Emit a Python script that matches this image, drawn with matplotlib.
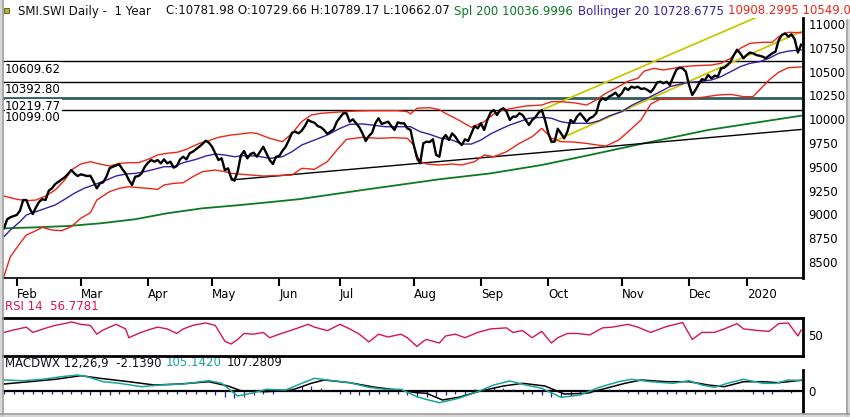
import matplotlib
matplotlib.use('Agg')
import matplotlib.pyplot as plt
import numpy as np
import pandas as pd
from matplotlib.lines import Line2D
from matplotlib.patches import Rectangle
from matplotlib.transforms import blended_transform_factory

# trading calendar (SIX, one year of daily sessions)
holidays = ['2019-04-19', '2019-04-22', '2019-05-01', '2019-05-30', '2019-06-10',
            '2019-08-01', '2019-12-24', '2019-12-25', '2019-12-26', '2019-12-31',
            '2020-01-01', '2020-01-02']
days = pd.bdate_range('2019-01-28', '2020-01-28')
days = days[~days.isin(pd.to_datetime(holidays))]

# close (session number -> value)
close_day = [0, 1, 2, 4, 5, 6, 7, 8, 9, 10, 11, 12, 13, 14, 15, 16, 17, 19, 20, 21,
             22, 23, 24, 26, 27, 28, 29, 30, 31, 32, 33, 34, 36, 37, 38, 39, 40, 41, 42, 43,
             44, 45, 46, 47, 48, 49, 50, 51, 52, 53, 54, 55, 56, 57, 58, 59, 61, 62, 63, 64,
             65, 66, 67, 68, 69, 70, 71, 72, 73, 74, 75, 76, 77, 78, 79, 80, 81, 82, 83, 84,
             85, 86, 87, 88, 89, 90, 91, 92, 93, 94, 95, 96, 97, 98, 99, 100, 101, 102, 103, 104,
             105, 106, 107, 108, 109, 110, 111, 112, 113, 114, 115, 116, 117, 118, 120, 121, 122, 123, 124, 125,
             126, 127, 128, 129, 130, 131, 132, 133, 134, 135, 136, 137, 138, 139, 140, 141, 142, 143, 144, 145,
             146, 147, 148, 149, 150, 151, 152, 153, 154, 155, 156, 157, 158, 159, 160, 161, 162, 163, 164, 165,
             166, 167, 168, 169, 170, 171, 172, 173, 174, 175, 176, 177, 178, 179, 180, 181, 182, 183, 184, 185,
             186, 187, 188, 189, 190, 191, 192, 193, 194, 195, 196, 197, 198, 199, 200, 201, 202, 203, 204, 205,
             206, 207, 208, 209, 210, 211, 212, 213, 214, 215, 216, 217, 218, 219, 220, 221, 222, 223, 224, 225,
             226, 227, 228, 229, 230, 231, 232, 233, 234, 235, 236, 237, 238, 239, 240, 241, 242, 243, 244, 245,
             246, 247, 248, 249]
close_val = [8854, 8949, 8970, 8994, 9039, 9151, 9151, 9064, 9004, 9074, 9133, 9159, 9151, 9249, 9274, 9319, 9343, 9390, 9424, 9466,
             9431, 9403, 9421, 9403, 9406, 9343, 9274, 9326, 9337, 9396, 9484, 9501, 9526, 9474, 9431, 9361, 9309, 9396, 9403, 9431,
             9501, 9543, 9571, 9554, 9571, 9536, 9578, 9536, 9554, 9491, 9508, 9578, 9606, 9578, 9642, 9659, 9711, 9740, 9774, 9753,
             9711, 9642, 9571, 9589, 9466, 9484, 9380, 9354, 9450, 9620, 9666, 9589, 9634, 9648, 9606, 9659, 9711, 9642, 9571, 9529,
             9606, 9613, 9669, 9711, 9781, 9858, 9869, 9851, 9879, 9928, 9992, 9974, 9963, 9928, 9915, 9887, 9845, 9869, 9894, 9974,
             10020, 10062, 10062, 9974, 9999, 9957, 9915, 9851, 9771, 9824, 9858, 9957, 10010, 9950, 9974, 9928, 9887, 9967, 9957, 9957,
             9904, 9887, 9729, 9606, 9536, 9747, 9764, 9760, 9789, 9624, 9606, 9790, 9834, 9781, 9851, 9816, 9764, 9729, 9789, 9771,
             9850, 9928, 9904, 9957, 9887, 9992, 10069, 10097, 10044, 10097, 10115, 10079, 9992, 10027, 10027, 10062, 10044, 9992, 9939, 9992,
             10020, 10069, 10097, 9992, 9860, 9764, 9764, 9900, 9851, 9799, 9869, 9992, 9963, 10027, 10062, 10020, 9974, 10010, 10027, 10062,
             10184, 10219, 10202, 10237, 10254, 10279, 10237, 10272, 10330, 10307, 10342, 10330, 10342, 10317, 10324, 10307, 10283, 10324, 10385, 10394,
             10377, 10394, 10359, 10440, 10517, 10541, 10534, 10499, 10360, 10254, 10307, 10366, 10420, 10412, 10464, 10429, 10457, 10447, 10534, 10541,
             10569, 10604, 10674, 10730, 10692, 10640, 10674, 10700, 10692, 10674, 10667, 10657, 10640, 10667, 10692, 10709, 10830, 10884, 10902, 10867,
             10892, 10840, 10700, 10782]

# Bollinger 20: middle, upper, lower
boll_day = [0, 2, 5, 7, 10, 13, 16, 19, 22, 25, 28, 32, 35, 38, 41, 44, 47, 50, 53, 56,
            60, 63, 66, 69, 72, 75, 79, 83, 87, 90, 93, 97, 101, 105, 108, 112, 115, 119, 123, 127,
            130, 133, 136, 140, 143, 146, 149, 152, 155, 158, 161, 164, 168, 171, 174, 177, 180, 183, 186, 189,
            193, 196, 199, 202, 205, 208, 211, 214, 217, 221, 224, 227, 230, 233, 236, 239, 242, 245, 249]
boll_mid = [8766, 8836, 8924, 8994, 9029, 9064, 9099, 9159, 9222, 9274, 9309, 9361, 9403, 9424, 9431, 9449, 9474, 9501, 9501, 9543,
            9578, 9613, 9634, 9624, 9606, 9617, 9613, 9589, 9606, 9659, 9729, 9781, 9834, 9904, 9946, 9950, 9939, 9921, 9921, 9921,
            9869, 9841, 9805, 9781, 9739, 9739, 9781, 9845, 9894, 9939, 9974, 10010, 10020, 10010, 9974, 9957, 9957, 9957, 9985, 10034,
            10079, 10144, 10193, 10237, 10289, 10342, 10366, 10387, 10394, 10412, 10447, 10499, 10552, 10587, 10604, 10640, 10692, 10715, 10729]

upper_day = [0, 4, 7, 10, 13, 16, 19, 21, 24, 27, 29, 33, 36, 39, 42, 45, 48, 51, 54, 57,
             61, 64, 67, 71, 74, 77, 79, 83, 87, 90, 93, 96, 99, 102, 106, 110, 115, 119, 123, 126,
             127, 129, 133, 136, 138, 141, 146, 150, 153, 156, 159, 163, 168, 171, 174, 178, 182, 185, 188, 192,
             195, 198, 200, 203, 206, 209, 212, 216, 221, 224, 227, 230, 233, 237, 240, 242, 245, 249]
upper_val = [9193, 9159, 9144, 9151, 9193, 9256, 9361, 9466, 9529, 9554, 9536, 9508, 9536, 9543, 9543, 9578, 9624, 9642, 9652, 9683,
             9746, 9774, 9810, 9834, 9845, 9858, 9851, 9799, 9764, 9851, 9974, 10044, 10062, 10069, 10079, 10086, 10090, 10090, 10090, 10079,
             10055, 10115, 10121, 10100, 10060, 10010, 9915, 9974, 10055, 10097, 10115, 10139, 10149, 10184, 10184, 10173, 10149, 10202, 10272, 10342,
             10400, 10429, 10506, 10534, 10517, 10534, 10552, 10562, 10569, 10587, 10640, 10744, 10797, 10808, 10808, 10867, 10913, 10908]

lower_day = [0, 2, 5, 7, 10, 12, 15, 18, 21, 24, 27, 29, 33, 36, 39, 42, 45, 48, 50, 53,
             56, 59, 62, 66, 69, 71, 81, 90, 93, 97, 101, 104, 107, 112, 117, 122, 126, 128, 129, 132,
             136, 140, 143, 147, 150, 153, 157, 161, 165, 168, 171, 174, 178, 182, 185, 188, 192, 195, 199, 202,
             205, 211, 216, 223, 227, 231, 234, 236, 239, 242, 245, 249]
lower_val = [8350, 8556, 8696, 8784, 8829, 8864, 8836, 8829, 8871, 8959, 9018, 9151, 9239, 9274, 9291, 9281, 9274, 9263, 9309, 9326,
             9333, 9396, 9449, 9466, 9449, 9431, 9403, 9414, 9484, 9474, 9554, 9676, 9789, 9810, 9799, 9806, 9799, 9729, 9571, 9529,
             9519, 9529, 9519, 9554, 9624, 9606, 9659, 9746, 9816, 9904, 9800, 9764, 9760, 9746, 9730, 9718, 9781, 9869, 9992, 10157,
             10212, 10212, 10219, 10254, 10261, 10237, 10237, 10307, 10412, 10493, 10541, 10549]

# simple moving average 200
spl_day = [0, 10, 20, 30, 41, 51, 62, 74, 92, 112, 136, 152, 168, 183, 199, 220, 249]
spl_val = [8854, 8864, 8878, 8906, 8949, 9012, 9064, 9099, 9159, 9256, 9369, 9431, 9519, 9624, 9740, 9887, 10037]

# drawn trendlines
support_day = [71, 249]
support_val = [9362, 9892]
chan_up_day = [168, 249]
chan_up_val = [10097, 11272]
chan_lo_day = [171, 249]
chan_lo_val = [9755, 10920]

# horizontal levels
levels = [10609.62, 10392.80, 10219.77, 10099.00]

# RSI 14
rsi_day = [0, 3, 7, 9, 13, 16, 20, 21, 24, 27, 29, 31, 35, 38, 39, 42, 45, 48, 51, 54,
           56, 59, 63, 66, 68, 69, 71, 73, 75, 78, 81, 83, 86, 91, 95, 97, 101, 105, 108, 111,
           114, 117, 120, 124, 126, 129, 131, 132, 136, 138, 141, 144, 148, 152, 157, 159, 162, 165, 168, 171,
           173, 176, 179, 183, 187, 190, 195, 198, 202, 207, 212, 215, 218, 222, 225, 229, 231, 236, 239, 242,
           245, 248, 249]
rsi_val = [53.5, 57, 61, 53.5, 59.5, 63.5, 67, 68.5, 65, 63.5, 51, 57, 65, 58.5, 46, 52, 57, 61, 58.5, 52,
           58.5, 63.5, 67, 63.5, 48.5, 41, 37, 43.5, 52, 51, 53.5, 46, 51, 58.5, 65, 61, 56, 65, 58.5, 51,
           40, 51, 47, 51, 46, 33.5, 41, 43.5, 38.5, 48.5, 51, 46, 53.5, 58.5, 60, 53.5, 56, 46, 55, 38.5,
           46, 52, 52, 50, 60, 61, 65, 61, 53.5, 62, 67.5, 43.5, 53.5, 53.5, 58.5, 66, 58.5, 56, 55, 66,
           67, 48.5, 56.78]

# MACD 12,26,9
macd_day = [0, 6, 12, 18, 23, 26, 31, 36, 43, 49, 56, 64, 68, 73, 78, 82, 88, 93, 97, 101,
            108, 114, 119, 124, 129, 132, 136, 142, 148, 153, 158, 163, 168, 174, 180, 186, 192, 196, 202, 209,
            214, 218, 222, 226, 231, 237, 241, 245, 249]
macd_val = [110, 103, 117, 143, 160, 143, 93, 77, 43, 60, 70, 103, 77, -50, -17, 17, 10, 77, 127, 110,
            83, 37, 17, 17, -57, -85, -117, -73, -7, 60, 100, 60, 27, -63, -40, 37, 93, 117, 93, 77,
            103, 60, 37, 77, 117, 77, 77, 110, 105.142]
sig_day = [0, 8, 16, 24, 30, 39, 47, 55, 64, 70, 74, 82, 90, 96, 100, 108, 116, 123, 129, 132,
           137, 142, 148, 156, 162, 169, 175, 182, 188, 194, 199, 207, 214, 220, 225, 231, 237, 242, 249]
sig_val = [70, 93, 117, 153, 127, 93, 60, 70, 93, 50, 3, -7, 10, 77, 110, 83, 37, 10, -17, -23,
           -90, -63, -7, 50, 77, 50, -30, -23, 27, 77, 110, 93, 93, 60, 43, 93, 93, 83, 107.281]
hist_day = list(range(0, 250, 3))
hist_val = [-25, -28, -25, -28, -25, -28, -25, -25,
            -28, -35, -40, -35, -30, -28, -25, -25,
            -30, -28, -25, -28, -25, -25, -35,
            -55, -70, -60, -40, -25,
            -25, 20, 35, 50, 50, 30, 15,
            -25, -30, -35, -40, -30, -28, -30,
            -40, -55, -60, -50, -40, -30, -25,
            20, 35, 40, 35, 25, -25, -30,
            -40, -55, -60, -45, -30, -20, 20,
            25, 20, -20, -25, -28, -25, -25,
            -25, -28, -30, -28, -25, 20, 25,
            20, -25, -28, -25, 20, -20, -2]

# colours
c_price = 'black'
c_mid = '#3a1f9e'
c_band = '#ee2518'
c_spl = '#0b7a22'
c_yel = '#c9c900'
c_rsi = '#d4145a'
c_macd = '#1aa39a'
c_hist = '#23238c'

plt.rcParams['font.family'] = 'DejaVu Sans'
plt.rcParams['font.size'] = 8.5

W, H = 850, 417
fig = plt.figure(figsize=(W / 100, H / 100), dpi=100)


def box(x0, y0, x1, y1):
    # pixel box with top-left origin -> figure rect
    return [x0 / W, 1 - y1 / H, (x1 - x0) / W, (y1 - y0) / H]


def chain(prev, text, color):
    # put a text piece right after the previous one
    return ax.annotate(text, xy=(1, 0.5), xycoords=prev, xytext=(3.2, 0),
                       textcoords='offset points', va='center', ha='left', color=color)


ax = fig.add_axes(box(3, 18, 803, 278))
ax_rsi = fig.add_axes(box(3, 318, 803, 356), sharex=ax)
ax_macd = fig.add_axes(box(3, 370, 803, 412), sharex=ax)

# main price panel
blend = blended_transform_factory(ax.transAxes, ax.transData)
lvl_col = ['black', 'black', '#2f5e5e', 'black']
lvl_lw = [1.0, 1.0, 2.0, 1.0]
for v, c, w in zip(levels, lvl_col, lvl_lw):
    ax.axhline(v, color=c, lw=w, zorder=1)
    ax.annotate(f'{v:.2f}', xy=(0.0025, v), xycoords=blend, xytext=(0, -1.2),
                textcoords='offset points', ha='left', va='top', fontsize=8.5, zorder=5,
                bbox=dict(facecolor='white', edgecolor='none', pad=0.3))

ax.plot(spl_day, spl_val, color=c_spl, lw=1.3, zorder=2)
ax.plot(support_day, support_val, color='black', lw=1.0, zorder=2)
ax.plot(chan_up_day, chan_up_val, color=c_yel, lw=1.3, zorder=2)
ax.plot(chan_lo_day, chan_lo_val, color=c_yel, lw=1.3, zorder=2)
ax.plot(upper_day, upper_val, color=c_band, lw=1.0, zorder=3)
ax.plot(lower_day, lower_val, color=c_band, lw=1.0, zorder=3)
ax.plot(boll_day, boll_mid, color=c_mid, lw=1.0, zorder=3)
ax.plot(close_day, close_val, color=c_price, lw=1.7, zorder=4)

ax.set_xlim(-0.3, 249.6)
ax.set_ylim(8332, 11063)
ax.set_yticks(np.arange(8500, 11001, 250))
ax.yaxis.tick_right()
ax.tick_params(axis='y', length=0, pad=4, labelsize=8.5)

months = days.to_period('M')
first = np.r_[True, months[1:] != months[:-1]]
tick_pos = np.flatnonzero(first)[1:]
tick_lab = [str(d.year) if d.month == 1 else d.strftime('%b') for d in days[tick_pos]]
ax.set_xticks(tick_pos)
ax.set_xticklabels(tick_lab)
ax.tick_params(axis='x', direction='out', length=6, width=1.5, pad=1.5, labelsize=8.5)
for lab in ax.get_xticklabels():
    lab.set_horizontalalignment('left')

for s in ['left', 'top']:
    ax.spines[s].set_visible(False)
ax.spines['right'].set_linewidth(2)
ax.spines['bottom'].set_linewidth(1.2)

# RSI panel
ax_rsi.plot(rsi_day, rsi_val, color=c_rsi, lw=1.0)
ax_rsi.set_ylim(20, 74)
ax_rsi.set_yticks([50])
ax_rsi.yaxis.tick_right()
ax_rsi.tick_params(axis='y', length=0, pad=4, labelsize=8.5)
ax_rsi.tick_params(axis='x', bottom=False, labelbottom=False)
ax_rsi.spines['left'].set_visible(False)
for s in ['top', 'bottom', 'right']:
    ax_rsi.spines[s].set_linewidth(2)

# MACD panel
ax_macd.axhline(0, color='black', lw=1.6, zorder=1)
ax_macd.vlines(hist_day, 0, hist_val, color=c_hist, lw=0.9, zorder=2)
ax_macd.plot(sig_day, sig_val, color='black', lw=1.1, zorder=3)
ax_macd.plot(macd_day, macd_val, color=c_macd, lw=1.1, zorder=3)
ax_macd.set_ylim(-210, 210)
ax_macd.set_yticks([0])
ax_macd.yaxis.tick_right()
ax_macd.tick_params(axis='y', length=0, pad=4, labelsize=8.5)
ax_macd.tick_params(axis='x', bottom=False, labelbottom=False)
for s in ['left', 'top', 'bottom']:
    ax_macd.spines[s].set_visible(False)
ax_macd.spines['right'].set_linewidth(2)

# header texts
hy = 1 - 11 / H
fig.text(18 / W, hy, 'SMI.SWI Daily -  1 Year', va='center', color='#111111')
t = fig.text(166 / W, hy, 'C:10781.98 O:10729.66 H:10789.17 L:10662.07', va='center', color='#111111')
t = chain(t, 'Spl 200 10036.9996', c_spl)
t = chain(t, 'Bollinger 20 10728.6775', c_mid)
t = chain(t, '10908.2995 10549.0583', c_band)
fig.add_artist(Rectangle((4 / W, 1 - 13 / H), 5 / W, 5 / H, transform=fig.transFigure,
                         facecolor='#b5b030', edgecolor='#555500', lw=0.6))

fig.text(5 / W, 1 - 307 / H, 'RSI 14  56.7781', va='center', color=c_rsi)
t = fig.text(5 / W, 1 - 363 / H, 'MACDWX 12,26,9  -2.1390', va='center', color='#111122')
t = chain(t, '105.1420', c_macd)
t = chain(t, '107.2809', '#111111')

# window frame
for x, c in [(1, '#d0d0d0'), (3, '#9a9a9a')]:
    fig.add_artist(Line2D([x / W, x / W], [0, 1], color=c, lw=1.2))
for x, c in [(849, '#d0d0d0'), (846.5, '#9a9a9a')]:
    fig.add_artist(Line2D([x / W, x / W], [0, 1 - 20 / H], color=c, lw=1.2))
for y, c in [(416, '#d0d0d0'), (413.5, '#9a9a9a')]:
    fig.add_artist(Line2D([0, 1], [1 - y / H, 1 - y / H], color=c, lw=1.2))

fig.savefig('out.png', dpi=100)
